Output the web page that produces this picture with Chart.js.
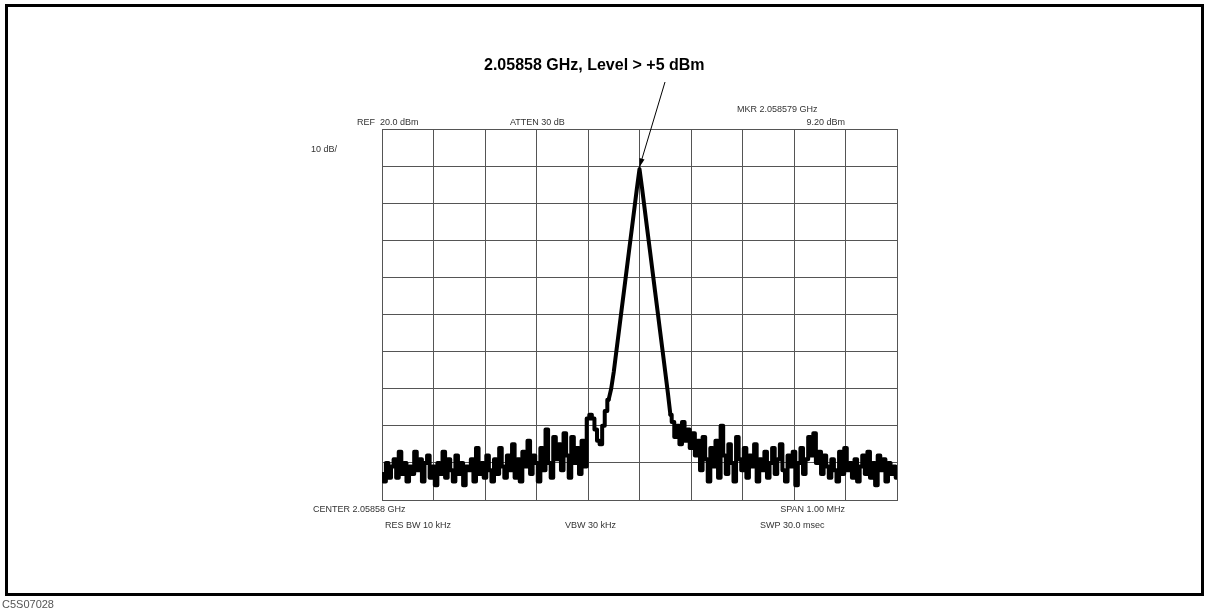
<!DOCTYPE html>
<html>
<head>
<meta charset="utf-8">
<title>Spectrum</title>
<script src="https://cdn.jsdelivr.net/npm/chart.js@4.4.1/dist/chart.umd.min.js"></script>
<style>
  html, body { margin: 0; padding: 0; background: #fff; }
  canvas { display: block; }
</style>
</head>
<body>
<canvas id="spectrum" width="1209" height="611"></canvas>
<script>
// Analyzer settings (as printed on the screen)
const centerGHz = 2.05858;
const spanKHz = 1000;
const refLevel = 20;      // dBm, top graticule line
const dbPerDiv = 10;
const divisions = 10;

// Trace amplitude in dBm, left to right (201 points over the span)
const traceDbm = [
  -73, -75, -70, -74, -71, -69, -74, -67, -73, -70,
  -75, -71, -73, -67, -72, -69, -75, -70, -68, -74,
  -71, -76, -70, -73, -67, -74, -69, -72, -75, -68,
  -73, -70, -76, -71, -72, -69, -75, -66, -73, -70,
  -74, -68, -72, -75, -69, -73, -66, -71, -74, -68,
  -72, -65, -74, -69, -75, -67, -71, -64, -73, -68,
  -70, -75, -66, -72, -61, -70, -74, -63, -69, -65,
  -72, -62, -68, -74, -63, -70, -66, -73, -64, -71,
  -58, -57, -58, -61, -64, -65, -60, -56, -53, -50,
  -45.5, -40, -34.5, -29, -23.5, -18, -12.5, -7, -1.5, 4,
  9.2,
  4, -1.5, -7, -12.5, -18, -23.5, -29, -34.5, -40, -45.5,
  -51, -57, -59, -63, -60, -65, -59, -64, -61, -66,
  -62, -68, -64, -72, -63, -69, -75, -66, -71, -64,
  -74, -60, -68, -73, -65, -70, -75, -63, -69, -72,
  -66, -74, -68, -71, -65, -75, -69, -72, -67, -74,
  -70, -66, -73, -69, -65, -72, -75, -68, -71, -67,
  -76, -70, -66, -73, -69, -63, -68, -62, -70, -67,
  -73, -68, -71, -74, -69, -72, -75, -67, -73, -66,
  -72, -70, -74, -69, -75, -71, -68, -73, -67, -74,
  -70, -76, -68, -72, -69, -75, -70, -73, -71, -74
];
// the signal skirt runs from point 88 to point 112; the rest is noise floor
const skirtStart = 88;
const skirtEnd = 112;

// Screen annotations
const headerLeft = ['REF  20.0 dBm', 'ATTEN 30 dB'];
const markerText = ['MKR 2.058579 GHz', '9.20 dBm'];
const footerText = ['CENTER 2.05858 GHz', 'SPAN 1.00 MHz', 'RES BW 10 kHz', 'VBW 30 kHz', 'SWP 30.0 msec'];
const scaleText = '10 dB/';
const calloutText = '2.05858 GHz, Level > +5 dBm';
const figureId = 'C5S07028';

// frequency offset (kHz from center) for each trace point
const points = traceDbm.map((v, i) => ({
  x: -spanKHz / 2 + i * spanKHz / (traceDbm.length - 1),
  y: v
}));

function traceSet(data, stepped) {
  return {
    data: data,
    borderColor: '#000',
    borderWidth: 4,
    borderJoinStyle: 'round',
    borderCapStyle: 'round',
    pointRadius: 0,
    tension: 0,
    stepped: stepped,
    fill: false
  };
}

// Draws the frame, the screen text and the callout arrow
const screenText = {
  id: 'screenText',
  afterDraw(chart) {
    const ctx = chart.ctx;
    const xs = chart.scales.x;
    const ys = chart.scales.y;
    ctx.save();

    // outer frame
    ctx.strokeStyle = '#000';
    ctx.lineWidth = 3;
    ctx.strokeRect(6.5, 5.5, 1196, 589);

    // small analyzer text
    ctx.fillStyle = '#333';
    ctx.font = '9px "Liberation Sans", Arial, sans-serif';
    ctx.textBaseline = 'alphabetic';
    ctx.textAlign = 'left';
    ctx.fillText(headerLeft[0], 357, 125);
    ctx.fillText(headerLeft[1], 510, 125);
    ctx.fillText(markerText[0], 737, 112);
    ctx.textAlign = 'right';
    ctx.fillText(markerText[1], 845, 125);
    ctx.textAlign = 'left';
    ctx.fillText(scaleText, 311, 152);
    ctx.fillText(footerText[0], 313, 512);
    ctx.textAlign = 'right';
    ctx.fillText(footerText[1], 845, 512);
    ctx.textAlign = 'left';
    ctx.fillText(footerText[2], 385, 528);
    ctx.fillText(footerText[3], 565, 528);
    ctx.fillText(footerText[4], 760, 528);

    // figure id under the frame
    ctx.fillStyle = '#555';
    ctx.font = '11px "Liberation Sans", Arial, sans-serif';
    ctx.fillText(figureId, 2, 608);

    // callout
    ctx.fillStyle = '#000';
    ctx.font = 'bold 16px "Liberation Sans", Arial, sans-serif';
    ctx.textAlign = 'left';
    ctx.fillText(calloutText, 484, 70);

    const tipX = xs.getPixelForValue(0);
    const tipY = ys.getPixelForValue(9.2) - 2;
    const startX = 665, startY = 82;
    ctx.strokeStyle = '#000';
    ctx.lineWidth = 1;
    ctx.beginPath();
    ctx.moveTo(startX, startY);
    ctx.lineTo(tipX, tipY);
    ctx.stroke();
    const ang = Math.atan2(tipY - startY, tipX - startX);
    const len = 9, half = 0.3;
    ctx.beginPath();
    ctx.moveTo(tipX, tipY);
    ctx.lineTo(tipX - len * Math.cos(ang - half), tipY - len * Math.sin(ang - half));
    ctx.lineTo(tipX - len * Math.cos(ang + half), tipY - len * Math.sin(ang + half));
    ctx.closePath();
    ctx.fill();

    ctx.restore();
  }
};

const ctx = document.getElementById('spectrum').getContext('2d');
new Chart(ctx, {
  type: 'line',
  data: {
    datasets: [
      traceSet(points.slice(0, skirtStart + 1), 'middle'),
      traceSet(points.slice(skirtStart, skirtEnd + 1), false),
      traceSet(points.slice(skirtEnd), 'middle')
    ]
  },
  options: {
    responsive: false,
    animation: false,
    devicePixelRatio: 1,
    layout: { padding: { left: 382, top: 129, right: 312, bottom: 111 } },
    plugins: {
      legend: { display: false },
      tooltip: { enabled: false }
    },
    scales: {
      x: {
        type: 'linear',
        min: -spanKHz / 2,
        max: spanKHz / 2,
        ticks: { display: false, stepSize: spanKHz / divisions },
        grid: { color: '#555', lineWidth: 1, drawTicks: false },
        border: { display: true, color: '#555', width: 1 }
      },
      y: {
        min: refLevel - dbPerDiv * divisions,
        max: refLevel,
        ticks: { display: false, stepSize: dbPerDiv },
        grid: { color: '#555', lineWidth: 1, drawTicks: false },
        border: { display: true, color: '#555', width: 1 }
      }
    }
  },
  plugins: [screenText]
});
</script>
</body>
</html>
